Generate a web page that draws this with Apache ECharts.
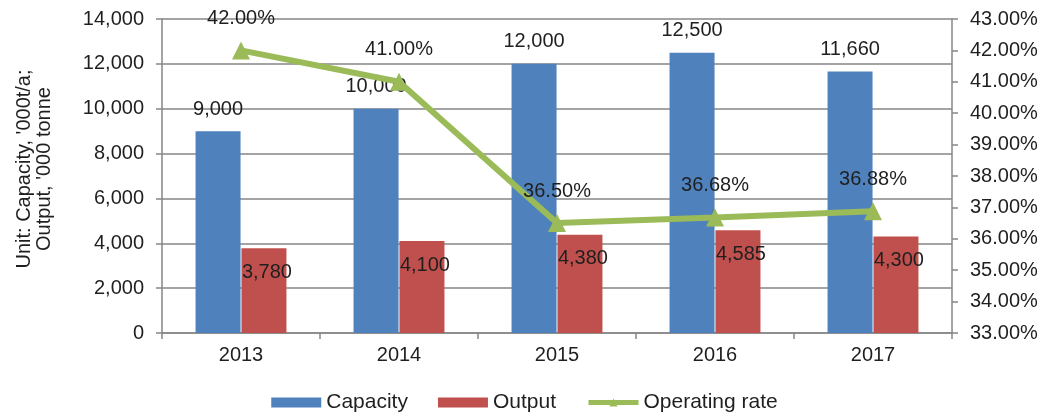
<!DOCTYPE html>
<html><head><meta charset="utf-8">
<script src="https://cdn.jsdelivr.net/npm/echarts@6/dist/echarts.min.js"></script>
<style>html,body{margin:0;padding:0;background:#fff}#c{width:1049px;height:419px}</style>
</head><body><div id="c"></div>
<script>
const categories = ['2013','2014','2015','2016','2017'];
const capacity = [9000, 10000, 12000, 12500, 11660];
const output = [3780, 4100, 4380, 4585, 4300];
const operatingRate = [42.00, 41.00, 36.50, 36.68, 36.88];

const font = 'Liberation Sans, Arial, sans-serif';
const txt = '#1f1f1f';
const axisCol = '#868686';
const fs = 20;
const chart = echarts.init(document.getElementById('c'));
chart.setOption({
  animation: false,
  textStyle: {fontFamily: font},
  grid: {left: 162, right: 97, top: 19, bottom: 86},
  legend: {
    bottom: 1, left: 'center', itemWidth: 50, itemHeight: 10, itemGap: 30,
    textStyle: {fontSize: 21, color: txt, fontFamily: font},
    data: [
      {name: 'Capacity', icon: 'rect'},
      {name: 'Output', icon: 'rect'},
      {name: 'Operating rate', lineStyle: {width: 5, color: '#9BBB59'}}
    ]
  },
  xAxis: {
    type: 'category', data: categories,
    axisLine: {lineStyle: {color: axisCol, width: 1.5}},
    axisTick: {show: true, length: 6, lineStyle: {color: axisCol, width: 1.5}},
    axisLabel: {fontSize: fs, color: txt, margin: 12}
  },
  yAxis: [{
    type: 'value', min: 0, max: 14000, interval: 2000,
    name: "Unit: Capacity, '000t/a;\nOutput, '000 tonne",
    nameLocation: 'middle', nameGap: 108, nameRotate: 90,
    nameTextStyle: {fontSize: fs, color: txt, lineHeight: 20, padding: [0, 0, 0, 14]},
    axisLine: {show: true, lineStyle: {color: axisCol, width: 1.5}},
    axisTick: {show: true, length: 6, lineStyle: {color: axisCol, width: 1.5}},
    splitLine: {lineStyle: {color: axisCol, width: 1.5}},
    axisLabel: {fontSize: fs, color: txt, margin: 18,
      formatter: v => v.toLocaleString('en-US')}
  }, {
    type: 'value', min: 33, max: 43, interval: 1, position: 'right',
    axisLine: {show: true, lineStyle: {color: axisCol, width: 1.5}},
    axisTick: {show: true, length: 6, lineStyle: {color: axisCol, width: 1.5}},
    splitLine: {show: false},
    axisLabel: {fontSize: fs, color: txt, margin: 18,
      formatter: v => v.toFixed(2) + '%'}
  }],
  series: [{
    name: 'Capacity', type: 'bar', data: capacity, barWidth: 45, barGap: '2%',
    itemStyle: {color: '#4F81BD'},
    label: {show: true, position: 'top', distance: 12, fontSize: fs, color: txt,
      formatter: p => p.value.toLocaleString('en-US')}
  }, {
    name: 'Output', type: 'bar', data: output, barWidth: 45,
    itemStyle: {color: '#C0504D'},
    label: {show: true, position: 'insideTop', distance: 14, fontSize: fs, color: txt,
      offset: [3, 0],
      formatter: p => p.value.toLocaleString('en-US')}
  }, {
    name: 'Operating rate', type: 'line', yAxisIndex: 1, data: operatingRate,
    lineStyle: {color: '#9BBB59', width: 6},
    itemStyle: {color: '#9BBB59'},
    symbol: 'triangle', symbolSize: 18,
    label: {show: true, position: 'top', distance: 13, fontSize: fs, color: txt,
      formatter: p => p.value.toFixed(2) + '%'}
  }]
});
</script></body></html>
